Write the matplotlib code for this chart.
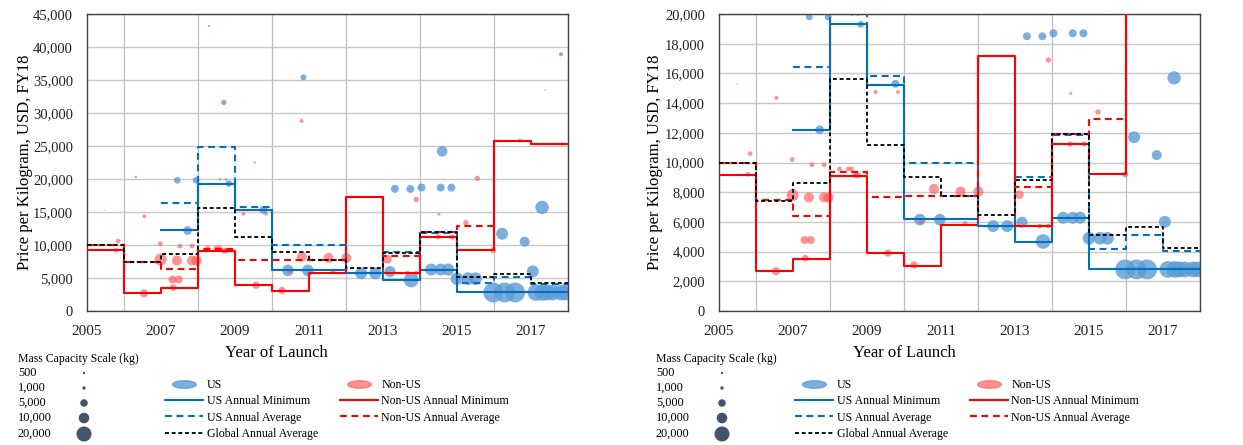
import numpy as np
import matplotlib
matplotlib.use('Agg')
import matplotlib.pyplot as plt
from matplotlib.lines import Line2D
from matplotlib.ticker import FuncFormatter, MultipleLocator

plt.rcParams['font.family'] = ['Liberation Serif', 'DejaVu Serif']

nan = np.nan
years = list(range(2005, 2018))

# annual step series (value holds from year to year+1)
us_min = [nan, nan, 12200, 19300, 15250, 6170, 6170, 5720, 4680, 6280, 2820, 2820, 2820]
us_avg = [nan, nan, 16400, 24800, 15800, 9950, 9950, 5720, 9000, 11850, 4170, 5130, 4050]
nonus_min = [9190, 2660, 3530, 9070, 3900, 3020, 5800, 17200, 5720, 11240, 9200, 25800, 25300]
nonus_avg = [10000, 7450, 6400, 9330, 7660, 7720, 7720, 17200, 8380, 11950, 12900, 25800, 25300]
global_avg = [10000, 7430, 8650, 15650, 11200, 9000, 7750, 6470, 8830, 11900, 5110, 5630, 4260]

# launches: year of launch, price per kg, mass capacity (kg)
us_x = [2008.3, 2008.7, 2010.85, 2009.53, 2007.44, 2007.95, 2008.6, 2008.75, 2008.83, 2007.72,
        2009.77, 2010.43, 2010.97, 2012.41, 2012.79, 2013.19, 2013.76, 2013.32, 2013.74, 2014.04,
        2014.56, 2014.85, 2014.6, 2017.81, 2017.38, 2017.3, 2016.22, 2016.83, 2017.05, 2014.3,
        2014.56, 2014.76, 2015.0, 2015.3, 2015.5, 2015.98, 2016.29, 2016.57, 2017.13, 2017.32,
        2017.45, 2017.59, 2017.81, 2017.95]
us_y = [43200, 31600, 35400, 22500, 19800, 19800, 19950, 19950, 19300, 12200,
        15300, 6150, 6150, 5720, 5720, 5970, 4680, 18500, 18500, 18700,
        18700, 18700, 24200, 38900, 33500, 15700, 11700, 10500, 6000, 6280,
        6280, 6280, 4900, 4900, 4900, 2800, 2800, 2800, 2800, 2800,
        2800, 2800, 2800, 2800]
us_mass = [350, 2500, 3200, 350, 4000, 4000, 500, 500, 4000, 6700,
           5700, 12000, 12000, 12800, 12800, 11000, 19000, 5700, 5700, 5700,
           5700, 5700, 10000, 1400, 200, 15800, 12800, 8900, 12800, 12800,
           12800, 12800, 14300, 14300, 14300, 35000, 35000, 35000, 24800, 24800,
           22000, 22000, 22000, 22000]

nonus_x = [2005.49, 2006.32, 2006.55, 2005.84, 2005.78, 2006.98, 2007.51, 2007.84, 2006.99, 2007.43,
           2007.84, 2007.96, 2007.31, 2007.48, 2007.33, 2006.54, 2008.26, 2008.49, 2008.58, 2008.69,
           2008.76, 2009.23, 2009.84, 2009.57, 2010.27, 2010.81, 2010.47, 2010.8, 2011.53, 2012.01,
           2011.65, 2012.98, 2013.12, 2013.67, 2013.9, 2013.9, 2014.51, 2014.49, 2014.87, 2015.24,
           2015.55, 2015.98, 2016.7, 2017.85]
nonus_y = [15300, 20300, 14350, 10600, 9200, 10200, 9850, 9850, 7800, 7650,
           7650, 7650, 4780, 4780, 3550, 2680, 9570, 9570, 9570, 9150,
           9150, 14750, 14750, 3900, 3100, 8220, 6000, 28800, 8040, 8040,
           5900, 17200, 7840, 5720, 5720, 16900, 14660, 11240, 11240, 13400,
           20100, 9200, 25900, 25300]
nonus_mass = [150, 650, 1400, 2000, 2000, 2000, 2000, 2000, 12800, 8900,
              8900, 8900, 5700, 5700, 4000, 5700, 2000, 2000, 2000, 3200,
              3200, 1400, 1400, 4800, 4800, 8900, 2000, 1400, 8900, 8900,
              2000, 350, 6700, 2000, 2000, 2500, 800, 2500, 2500, 2500,
              2500, 3200, 800, 800]

scale_labels = ['500', '1,000', '5,000', '10,000', '20,000']
scale_mass = [500, 1000, 5000, 10000, 20000]

US_DOT = '#5B9BD5'
NONUS_DOT = '#FF5A5A'
US_LINE = '#0070C0'
NONUS_LINE = '#FF0000'
SIZE_K = 171.5

fig = plt.figure(figsize=(12.43, 4.45), dpi=100)
W, H = 1243.0, 445.0


def steps(ax, vals, **kw):
    xs = years + [2018]
    ax.step(xs, list(vals) + [vals[-1]], where='post', **kw)


def panel(left_px, ymax, ystep, xlab_x, ylab_x):
    ax = fig.add_axes([left_px / W, (H - 311) / H, 481 / W, 297 / H])
    ax.scatter(us_x, us_y, s=np.array(us_mass) / SIZE_K, color=US_DOT, alpha=0.8,
               linewidths=0, zorder=2)
    ax.scatter(nonus_x, nonus_y, s=np.array(nonus_mass) / SIZE_K, color=NONUS_DOT, alpha=0.65,
               linewidths=0, zorder=2)
    steps(ax, us_min, color=US_LINE, lw=1.5, zorder=3)
    steps(ax, nonus_min, color=NONUS_LINE, lw=1.5, zorder=3)
    steps(ax, us_avg, color=US_LINE, lw=1.5, linestyle=(0, (3.3, 2.2)), zorder=4)
    steps(ax, nonus_avg, color=NONUS_LINE, lw=1.5, linestyle=(0, (3.3, 2.2)), zorder=4)
    steps(ax, global_avg, color='black', lw=1.3, linestyle=(0, (2.2, 1.5)), zorder=5)

    ax.set_xlim(2005, 2018)
    ax.set_ylim(0, ymax)
    ax.set_xticks(range(2005, 2018, 2))
    ax.xaxis.set_minor_locator(MultipleLocator(1))
    ax.yaxis.set_major_locator(MultipleLocator(ystep))
    ax.yaxis.set_major_formatter(FuncFormatter(lambda v, p: '{:,.0f}'.format(v)))
    ax.tick_params(which='both', length=0, pad=10, colors='#222222')
    ax.tick_params(axis='y', labelsize=10.5)
    ax.tick_params(axis='x', labelsize=11)
    ax.grid(True, axis='y', which='major', color='#C8C8C8', lw=1.0, zorder=0)
    ax.grid(True, axis='x', which='minor', color='#BDBDBD', lw=0.9, zorder=0)
    ax.set_axisbelow(True)
    for sp in ax.spines.values():
        sp.set_color('#404040')
        sp.set_linewidth(1.0)
    ax.set_xlabel('Year of Launch', fontsize=12)
    ax.set_ylabel('Price per Kilogram, USD, FY18', fontsize=12)
    ax.xaxis.set_label_coords(xlab_x, -0.113)
    ax.yaxis.set_label_coords(ylab_x, 0.5)
    return ax


ax1 = panel(87, 45000, 5000, 0.393, -0.112)
ax2 = panel(719, 20000, 2000, 0.385, -0.116)

# legends
t = np.linspace(0, 2 * np.pi, 80)
ellipse = list(zip(np.cos(t), 0.32 * np.sin(t)))
handles = [
    Line2D([], [], marker=ellipse, markersize=17, linestyle='none', color=US_DOT, alpha=0.8),
    Line2D([], [], color=US_LINE, lw=1.5),
    Line2D([], [], color=US_LINE, lw=1.5, linestyle=(0, (3.3, 2.2))),
    Line2D([], [], color='black', lw=1.3, linestyle=(0, (2.2, 1.5))),
    Line2D([], [], marker=ellipse, markersize=17, linestyle='none', color=NONUS_DOT, alpha=0.65),
    Line2D([], [], color=NONUS_LINE, lw=1.5),
    Line2D([], [], color=NONUS_LINE, lw=1.5, linestyle=(0, (3.3, 2.2))),
]
labels = ['US', 'US Annual Minimum', 'US Annual Average', 'Global Annual Average',
          'Non-US', 'Non-US Annual Minimum', 'Non-US Annual Average']

over = fig.add_axes([0, 0, 1, 1])
over.set_xlim(0, W)
over.set_ylim(H, 0)
over.axis('off')
over.patch.set_alpha(0)

for lx in (165, 795):
    fig.legend(handles, labels, loc='upper left', bbox_to_anchor=(lx / W, 1 - 379 / H),
               ncol=2, frameon=False, fontsize=8.6, borderpad=0, borderaxespad=0,
               handlelength=3.2, handletextpad=0.3, columnspacing=1.8, labelspacing=0.36)

for tx in (18, 656):
    over.text(tx, 359, 'Mass Capacity Scale (kg)', fontsize=8.5, va='center', ha='left')
    sy = [373, 388, 403, 418, 434]
    for lab, yy in zip(scale_labels, sy):
        over.text(tx, yy, lab, fontsize=8.8, va='center', ha='left')
    over.scatter([tx + 66] * len(sy), sy, s=np.array(scale_mass) / SIZE_K, color='#44546A',
                 linewidths=0)

fig.savefig('out.png', dpi=100)
